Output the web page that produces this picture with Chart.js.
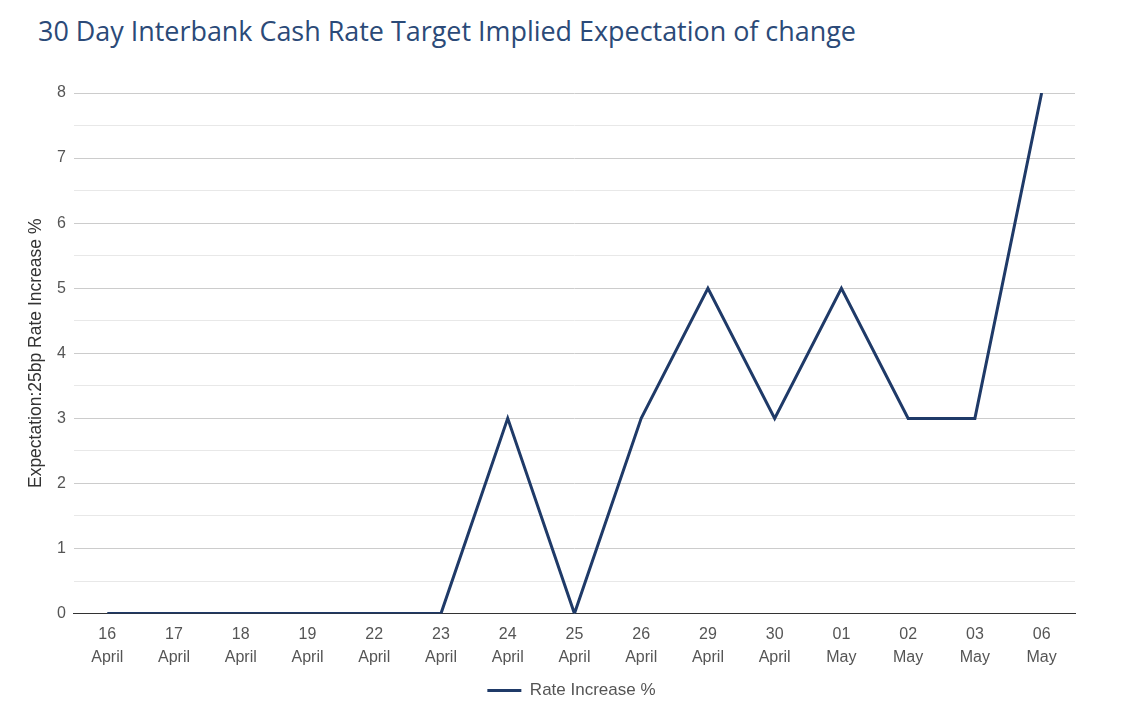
<!DOCTYPE html>
<html>
<head>
<meta charset="utf-8">
<script src="https://cdn.jsdelivr.net/npm/chart.js@4.4.1/dist/chart.umd.min.js"></script>
<style>
    html, body { margin: 0; padding: 0; background: #fff; }
    #wrap { position: relative; width: 1130px; height: 720px; }
    #title {
        position: absolute; left: 38px; top: 11px; margin: 0;
        font-family: "Open Sans", sans-serif; font-weight: 400; font-size: 28px;
        color: #2b4a78; white-space: nowrap;
        transform: scaleX(0.961); transform-origin: left top;
    }
    canvas { position: absolute; left: 0; top: 0; }
</style>
</head>
<body>
<div id="wrap">
    <h1 id="title">30 Day Interbank Cash Rate Target Implied Expectation of change</h1>
    <canvas id="myChart" width="1130" height="720"></canvas>
</div>
<script>
const days = ['16', '17', '18', '19', '22', '23', '24', '25', '26', '29', '30', '01', '02', '03', '06'];
const months = ['April', 'April', 'April', 'April', 'April', 'April', 'April', 'April', 'April', 'April', 'April', 'May', 'May', 'May', 'May'];
const rateIncrease = [0, 0, 0, 0, 0, 0, 3, 0, 3, 5, 3, 5, 3, 3, 8];

const labels = days.map((d, i) => [d, months[i]]);
const lineColor = '#1f3a68';

// centre the legend under the plot area rather than the whole canvas, nudge it up a little
const legendUnderPlot = {
    id: 'legendUnderPlot',
    beforeDraw(chart) {
        const lg = chart.legend;
        lg.left = chart.chartArea.left - 3;
        lg.right = chart.chartArea.right - 3;
        lg.top -= 2;
        lg.bottom -= 2;
    }
};

var ctx = document.getElementById('myChart').getContext('2d');

var myChart = new Chart(ctx, { //eslint-disable-line
    type: 'line',
    data: {
        labels: labels,
        datasets: [
            {
                label: 'Rate Increase %',
                data: rateIncrease,
                borderColor: lineColor,
                backgroundColor: lineColor,
                borderWidth: 3,
                pointRadius: 0,
                tension: 0
            }
        ]
    },
    options: {
        responsive: false,
        animation: false,
        layout: {
            padding: { top: 93, left: 26, right: 55, bottom: 9 }
        },
        plugins: {
            legend: {
                position: 'bottom',
                labels: {
                    boxWidth: 34,
                    boxHeight: 0,
                    color: '#555',
                    font: { family: 'Liberation Sans', size: 17 },
                    padding: 6
                }
            },
            tooltip: { enabled: false }
        },
        scales: {
            x: {
                offset: true,
                grid: { display: false, drawTicks: false },
                border: { color: '#333', width: 1 },
                ticks: {
                    color: '#555',
                    font: { family: 'Liberation Sans', size: 16, lineHeight: 1.45 },
                    maxRotation: 0,
                    autoSkip: false,
                    padding: 9
                }
            },
            y: {
                min: 0,
                max: 8,
                border: { display: false },
                grid: {
                    drawTicks: false,
                    color: (c) => (c.tick && c.tick.value % 1 === 0) ? '#cccccc' : '#e8e8e8'
                },
                ticks: {
                    stepSize: 0.5,
                    color: '#555',
                    padding: 8,
                    font: { family: 'Liberation Sans', size: 16 },
                    callback: (v) => (v % 1 === 0 ? v : '')
                },
                title: {
                    display: true,
                    text: 'Expectation:25bp Rate Increase %',
                    color: '#333',
                    font: { family: 'Liberation Sans', size: 17.5 },
                    padding: { top: 0, bottom: 2 }
                }
            }
        }
    },
    plugins: [legendUnderPlot]
});
</script>
</body>
</html>
